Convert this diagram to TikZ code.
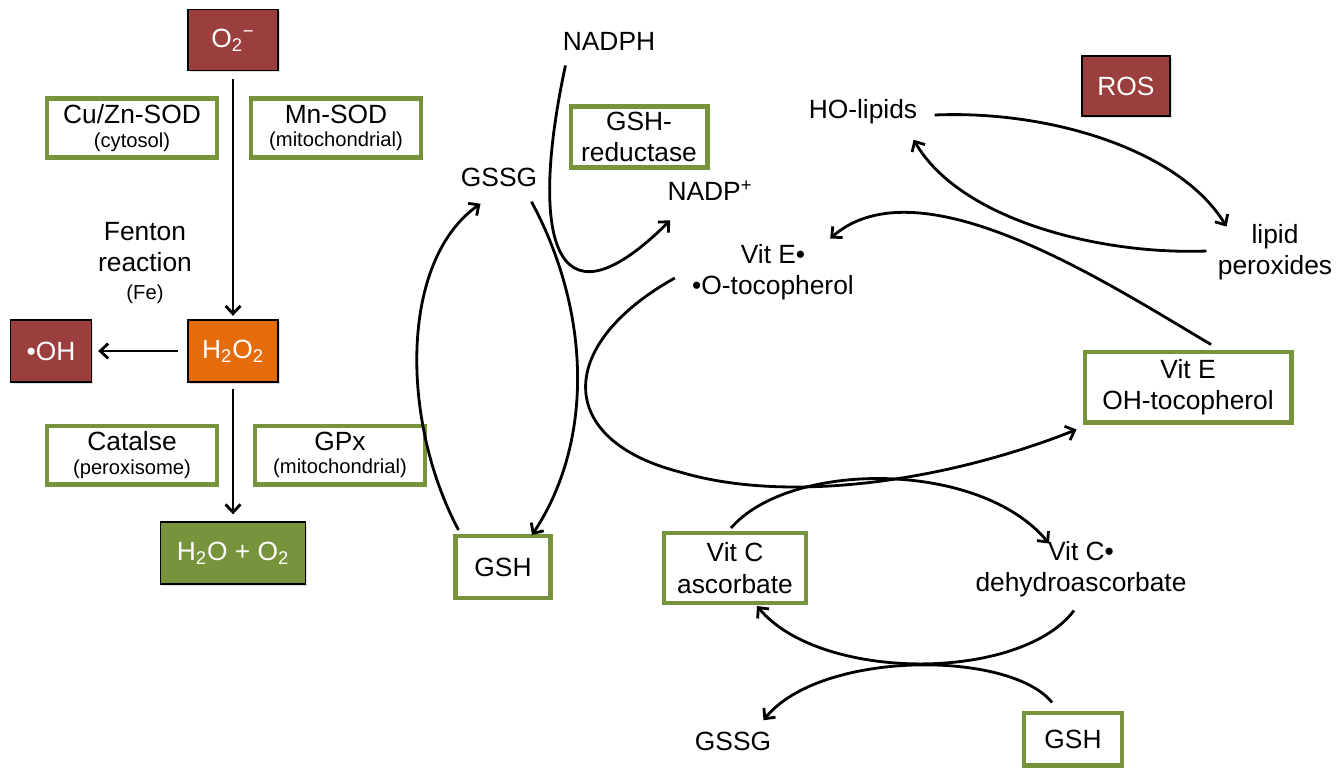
\documentclass[tikz,border=0pt]{standalone}
\usepackage{fontspec}
\setmainfont{Liberation Sans}
\usetikzlibrary{arrows.meta, shadows}
\definecolor{rosred}{RGB}{155,62,62}
\definecolor{peroxorange}{RGB}{228,108,10}
\definecolor{enzgreen}{RGB}{119,147,60}
\newcommand{\sitetext}[1]{{\fontsize{11.5}{14}\selectfont #1}}

\begin{document}
\begin{tikzpicture}[x=0.02cm, y=-0.02cm, line width=1.6pt, >={Straight Barb[length=4.5pt,width=8.5pt]}]
\tikzstyle{every node}+=[inner sep=0pt, font=\fontsize{15}{18}\selectfont, align=center]
\tikzstyle{species}=[draw=black, line width=0.8pt, text=white, drop shadow={shadow xshift=1pt, shadow yshift=-1pt, opacity=0.25}]
\tikzstyle{enzyme}=[draw=enzgreen, line width=2.3pt, fill=white, drop shadow={shadow xshift=1pt, shadow yshift=-1pt, opacity=0.2}]
\useasboundingbox (0,0) rectangle (1337,769);
\node[species, fill=rosred, minimum width=1.8cm, minimum height=1.22cm] (o2) at (233,40) {O\textsubscript{2}\textsuperscript{−}};
\node[enzyme, minimum width=3.4cm, minimum height=1.18cm] (cuzn) at (132,128) {Cu/Zn-SOD\\[-4.5pt]\sitetext{(cytosol)}};
\node[enzyme, minimum width=3.4cm, minimum height=1.18cm] (mnsod) at (336,128) {Mn-SOD\\[-4.5pt]\sitetext{(mitochondrial)}};
\node (fenton) at (145,263) {Fenton\\reaction\\[-2pt]\sitetext{(Fe)}};
\node[species, fill=rosred, minimum width=1.62cm, minimum height=1.24cm] (oh) at (51,351) {•OH};
\node[species, fill=peroxorange, minimum width=1.8cm, minimum height=1.24cm] (h2o2) at (233,351) {H\textsubscript{2}O\textsubscript{2}};
\node[enzyme, minimum width=3.4cm, minimum height=1.18cm] (catalse) at (132,455) {Catalse\\[-4.5pt]\sitetext{(peroxisome)}};
\node[enzyme, minimum width=3.4cm, minimum height=1.18cm] (gpx) at (340,455) {GPx\\[-4.5pt]\sitetext{(mitochondrial)}};
\node[species, fill=enzgreen, minimum width=2.9cm, minimum height=1.24cm] (water) at (233,553) {H\textsubscript{2}O + O\textsubscript{2}};

\node (nadph) at (609,41) {NADPH};
\node[enzyme, minimum width=2.74cm, minimum height=1.22cm] (gshred) at (639,137) {GSH-\\reductase};
\node (gssgA) at (499,177) {GSSG};
\node (nadp) at (710,191) {NADP\textsuperscript{+}};
\node[enzyme, minimum width=1.9cm, minimum height=1.24cm] (gshA) at (503,567) {GSH};

\node[species, fill=rosred, minimum width=1.76cm, minimum height=1.2cm] (ros) at (1126,86) {ROS};
\node (holip) at (863,112) {HO-lipids};
\node (lipox) at (1275,252) {lipid\\peroxides};
\node (viteR) at (773,272) {Vit E•\\•O-tocopherol};
\node[enzyme, minimum width=4.14cm, minimum height=1.42cm] (vite) at (1188,387) {Vit E\\OH-tocopherol};
\node[enzyme, minimum width=2.84cm, minimum height=1.4cm] (vitc) at (735,568) {Vit C\\ascorbate};
\node (vitcR) at (1081,569) {Vit C•\\dehydroascorbate};
\node[enzyme, minimum width=1.96cm, minimum height=1.06cm] (gshB) at (1073,739) {GSH};
\node (gssgB) at (733,741) {GSSG};

\draw[->, shorten <=0.16cm, shorten >=0.07cm] (o2.south) -- (h2o2.north);
\draw[->, shorten <=0.18cm, shorten >=0.12cm] (h2o2.west) -- (oh.east);
\draw[->, shorten <=0.12cm, shorten >=0.14cm] (h2o2.south) -- (water.north);

\draw[->] ([shift={(4,14)}]nadph.south west) .. controls (530,230) and (550,340) .. ([shift={(4,18)}]nadp.south west);
\draw[->] ([shift={(-7,14)}]gssgA.south east) .. controls (590,310) and (595,440) .. ([shift={(29,1)}]gshA.north);
\draw[->] ([shift={(5,-4)}]gshA.north west) .. controls (400,420) and (400,260) .. ([shift={(21,16)}]gssgA.south west);

\draw[->] ([shift={(-16,6)}]viteR.west) .. controls (555,345) and (555,440) .. (680,472) .. controls (790,505) and (950,480) .. ([shift={(-6,5)}]vite.south west);
\draw[->] ([shift={(23,-5)}]vite.north) .. controls (1110,285) and (920,160) .. ([shift={(-25,-4)}]viteR.north east);
\draw[->] ([shift={(16,3)}]holip.east) .. controls (1050,110) and (1180,150) .. ([shift={(10,4)}]lipox.north west);
\draw[->] ([shift={(-10,-1)}]lipox.west) .. controls (1100,255) and (960,220) .. ([shift={(-5,14)}]holip.south east);

\draw[->] ([shift={(-4,-3)}]vitc.north) .. controls (790,460) and (980,460) .. ([shift={(-32,4)}]vitcR.north);
\draw[->] ([shift={(-7,12)}]vitcR.south) .. controls (1020,682) and (820,682) .. ([shift={(22,1)}]vitc.south);
\draw[->] ([shift={(-21,-8)}]gshB.north) .. controls (1010,650) and (820,650) .. ([shift={(-9,-10)}]gssgB.north east);
\end{tikzpicture}
\end{document}
